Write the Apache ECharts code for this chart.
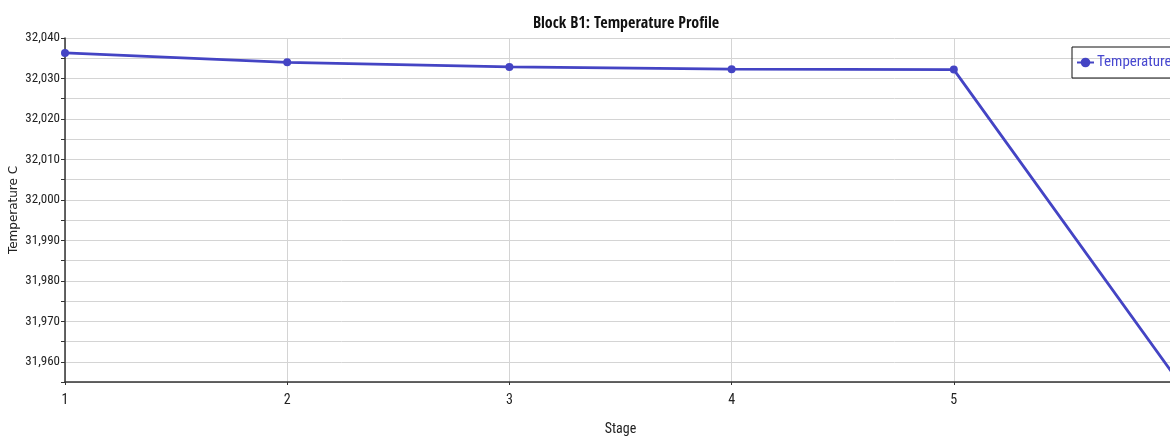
<!DOCTYPE html>
<html>
<head>
<meta charset="utf-8">
<script src="https://cdn.jsdelivr.net/npm/echarts@6/dist/echarts.min.js"></script>
<style>
html,body{margin:0;padding:0;background:#fff;}
#chart{width:1170px;height:437px;}
</style>
</head>
<body>
<div id="chart"></div>
<script>
const stages = [1, 2, 3, 4, 5, 6];
const temperatureC = [32036.3, 32034.0, 32032.85, 32032.3, 32032.2, 31956.0];
const yTickLabelsEvery = 10;
const seriesName = 'Temperature C';

const NARROW = "'Roboto Condensed', sans-serif";
const NARROW_BOLD = "'Open Sans Condensed', 'Roboto Condensed', sans-serif";
const lineColor = '#4444c4';

const chart = echarts.init(document.getElementById('chart'), null, {renderer: 'canvas'});
chart.setOption({
  animation: false,
  backgroundColor: '#fff',
  title: {
    text: 'Block B1: Temperature Profile',
    left: 621, top: 11, textAlign: 'center',
    textStyle: {fontFamily: NARROW_BOLD, fontWeight: 'bold', fontSize: 16, color: '#111'}
  },
  legend: {
    left: 1072, top: 47,
    orient: 'vertical',
    borderColor: '#111', borderWidth: 1,
    padding: [8, 4, 8, 4],
    itemWidth: 17, itemHeight: 12, itemGap: 4,
    textStyle: {fontFamily: NARROW, fontSize: 15, color: '#4848d0', padding: [0, 0, 0, -2]},
    data: [seriesName]
  },
  grid: {left: 65, right: -6, top: 38, bottom: 55, containLabel: false, outerBoundsMode: 'none'},
  xAxis: {
    type: 'value', min: 1, max: 6, interval: 1,
    name: 'Stage', nameLocation: 'middle', nameGap: 40, nameMoveOverlap: false,
    nameTextStyle: {fontFamily: NARROW, fontSize: 14, color: '#222'},
    axisLine: {show: true, lineStyle: {color: '#333', width: 1.5}},
    axisTick: {show: true, length: 3, lineStyle: {color: '#333'}},
    axisLabel: {fontFamily: NARROW, fontSize: 14, color: '#222', margin: 11,
      formatter: v => (v < 6 ? String(v) : '')},
    splitLine: {show: true, lineStyle: {color: '#d4d4d4', width: 1}}
  },
  yAxis: {
    type: 'value', min: 31955, max: 32040, interval: 5,
    name: 'Temperature C', nameLocation: 'middle', nameGap: 45, nameMoveOverlap: false,
    nameTextStyle: {fontFamily: "'DejaVu Sans', sans-serif", fontSize: 12, color: '#222', padding: [0, 0, 0, 0]},
    axisLine: {show: true, lineStyle: {color: '#333', width: 1.5}},
    axisTick: {show: true, length: 4, lineStyle: {color: '#333'}},
    axisLabel: {fontFamily: NARROW, fontSize: 13, color: '#222', margin: 5,
      formatter: v => (v % yTickLabelsEvery === 0 ? v.toLocaleString('en-US') : '')},
    splitLine: {show: true, lineStyle: {color: '#d4d4d4', width: 1}}
  },
  series: [{
    name: seriesName,
    type: 'line',
    data: stages.map((s, i) => [s, temperatureC[i]]),
    symbol: 'circle', symbolSize: 8,
    lineStyle: {color: lineColor, width: 2.8},
    itemStyle: {color: lineColor},
    clip: true
  }]
});
</script>
</body>
</html>
